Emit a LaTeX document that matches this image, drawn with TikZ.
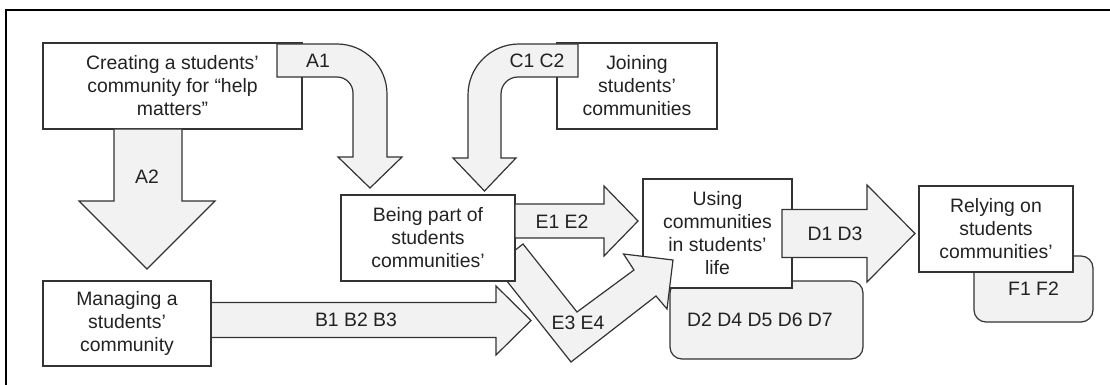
\documentclass[tikz,border=0pt]{standalone}
\usepackage{fontspec}
\setmainfont{Liberation Sans}
\definecolor{arrowfill}{HTML}{F2F2F2}
\definecolor{edgegray}{HTML}{333333}
\definecolor{textgray}{HTML}{222222}

\begin{document}
\begin{tikzpicture}[x=0.5pt,y=-0.5pt,
    box/.style={draw=edgegray, fill=white, line width=0.6pt, align=center, inner sep=0pt,
        font=\fontsize{9.7pt}{11.5pt}\selectfont, text=textgray},
    tagbox/.style={box, fill=arrowfill, rounded corners=6pt},
    bigarrow/.style={draw=edgegray, fill=arrowfill, line width=0.6pt, line join=miter},
    lbl/.style={inner sep=0pt, font=\fontsize{9.7pt}{11.5pt}\selectfont, text=textgray}]
    \useasboundingbox (0,0) rectangle (1110,385);
    % frame
    \draw[line width=1.2pt, black] (6,385) -- (6,10) -- (1110,10);
    % top row
    \node[box, minimum width=129.5pt, minimum height=43pt] (create) at (172.5,86)
        {Creating a students'\\community for “help\\matters”};
    \node[box, minimum width=80pt, minimum height=43pt] (join) at (637,86)
        {Joining\\students'\\communities};
    \draw[bigarrow] (277,44) -- (337,44) .. controls (364.6,44) and (387,66.4) .. (387,94)
        -- (387,157) -- (402,157) -- (370,188) -- (338,157) -- (353,157) -- (353,93)
        .. controls (353,84.2) and (345.8,77) .. (337,77) -- (277,77) -- cycle;
    \draw[bigarrow] (578,44) -- (519,44) .. controls (490.8,44) and (468,66.8) .. (468,95)
        -- (468,158) -- (453,158) -- (484.5,191) -- (516,158) -- (501,158) -- (501,94)
        .. controls (501,84.6) and (508.6,77) .. (518,77) -- (578,77) -- cycle;
    \draw[bigarrow] (114,129) -- (114,201) -- (79,201) -- (147,269) -- (215,201)
        -- (182,201) -- (182,129) -- cycle;
    % right part
    \node[tagbox, minimum width=96.5pt, minimum height=39pt] (dtag) at (766.5,320) {};
    \node[tagbox, minimum width=59.5pt, minimum height=33pt] (ftag) at (1033.5,289) {F1 F2};
    \node[box, minimum width=74.5pt, minimum height=54.5pt] (use) at (717.5,233.5)
        {Using\\communities\\in students'\\life};
    \node[box, minimum width=77pt, minimum height=43pt] (rely) at (996,229)
        {Relying on\\students\\communities'};
    \draw[bigarrow] (782,209.5) -- (867,209.5) -- (867,185) -- (915,233.5) -- (867,282)
        -- (867,257.5) -- (782,257.5) -- cycle;
    \draw[bigarrow] (523,244) -- (577,312) -- (634,270) -- (623.5,254) -- (673,260)
        -- (667,309) -- (656,296) -- (571,362) -- (495,266) -- cycle;
    % middle
    \node[box, minimum width=87pt, minimum height=43pt] (part) at (428,238)
        {Being part of\\students\\communities'};
    \draw[bigarrow] (515,204) -- (604,204) -- (604,186) -- (638,221) -- (604,256)
        -- (604,238) -- (515,238) -- cycle;
    \draw[bigarrow] (211,302.5) -- (496,302.5) -- (496,286) -- (531,320.5) -- (496,355)
        -- (496,337.5) -- (211,337.5) -- cycle;
    \node[box, minimum width=84pt, minimum height=42.5pt] (manage) at (127,323.5)
        {Managing a\\students'\\community};
    % arrow labels
    \node[lbl] (a1) at (318,60.5) {A1};
    \node[lbl] (c1) at (537,60.5) {C1 C2};
    \node[lbl] (a2) at (147,176.5) {A2};
    \node[lbl] (b1) at (356,320) {B1 B2 B3};
    \node[lbl] (e1) at (562,221.5) {E1 E2};
    \node[lbl] (e3) at (578,323) {E3 E4};
    \node[lbl] (d1) at (835,234) {D1 D3};
    \node[lbl] (d2) at (760,320) {D2 D4 D5 D6 D7};
\end{tikzpicture}
\end{document}
